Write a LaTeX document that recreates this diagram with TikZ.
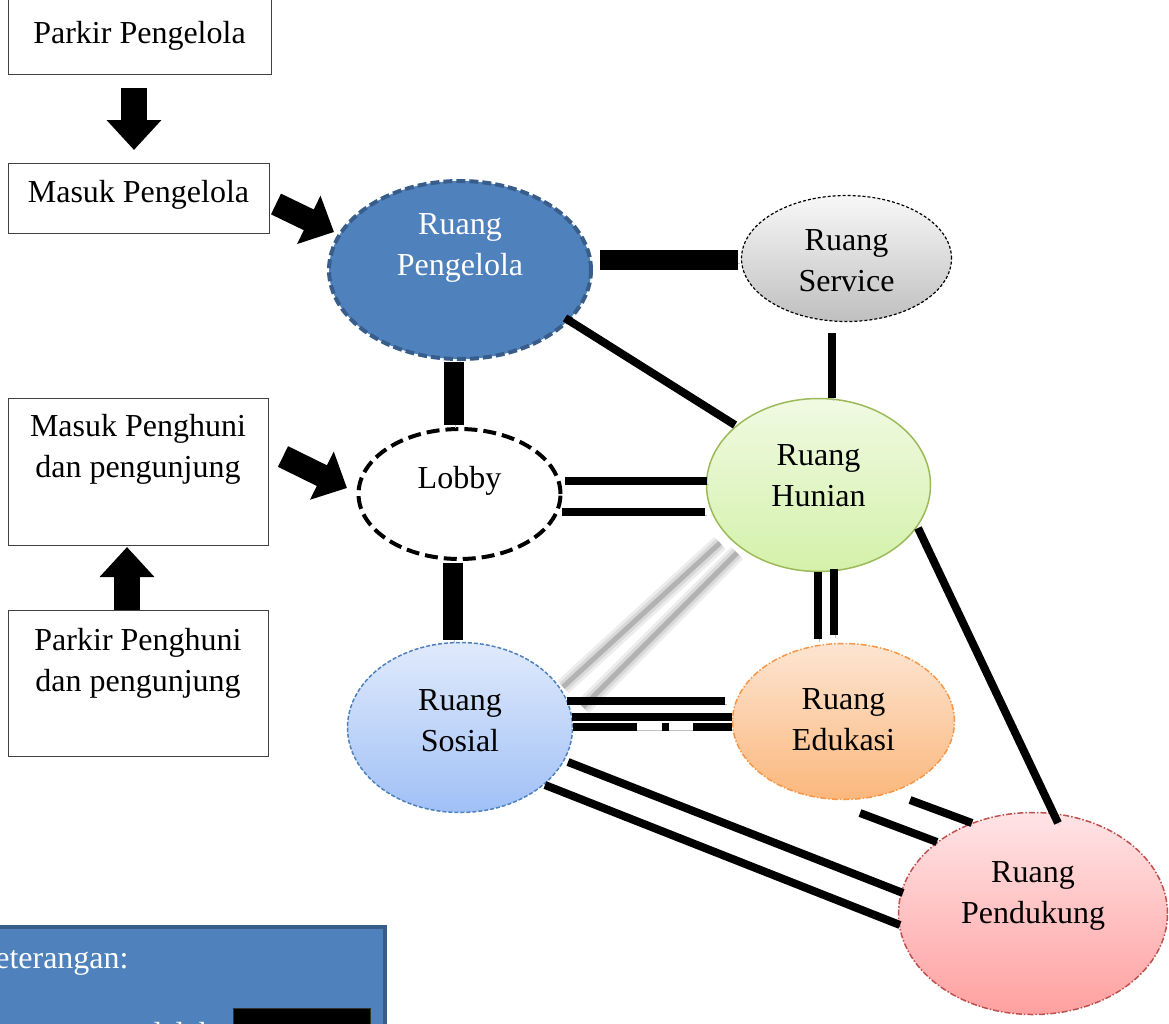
\documentclass[tikz,border=0pt]{standalone}
\usepackage{fontspec}
\setmainfont{Liberation Serif}
\usetikzlibrary{calc,arrows.meta,shapes.geometric}
\definecolor{pengfill}{HTML}{4F81BD}
\definecolor{pengline}{HTML}{385D8A}
\definecolor{hungreen}{HTML}{9BBB59}
\definecolor{edorange}{HTML}{F79646}
\definecolor{pendred}{HTML}{C0504D}
\begin{document}
\begin{tikzpicture}[x=1pt,y=-1pt,
  font=\fontsize{32pt}{41pt}\selectfont,
  box/.style={draw=black!75, line width=1pt, fill=white, inner sep=0pt},
  ell/.style={ellipse, inner sep=0pt},
  txt/.style={align=center, inner sep=0pt},
  shadowed/.style={preaction={draw=black!25, transform canvas={shift={(1.5pt,-3pt)}}}},
  link/.style={draw=black, line width=8pt, shadowed},
  bar/.style={draw=black, line width=20pt, shadowed},
  ghost/.style={draw=black!30, line width=5pt,
     preaction={draw=black!7, line width=17pt},
     preaction={draw=black!15, line width=11pt}},
  blockarr/.style={draw=black, line width=26pt, -{Triangle[width=53pt,length=30pt]}},
  diagarr/.style={draw=black, line width=23pt, -{Triangle[width=52pt,length=28pt]}}]
\useasboundingbox (0,0) rectangle (1169,1023);
\clip (0,0) rectangle (1169,1023);

% boxes
\node[box, minimum width=263pt, minimum height=75pt] (pp) at (139.5,36.5) {};
\node[txt] (pptxt) at ($(pp)+(0,-1)$) {Parkir Pengelola};
\node[box, minimum width=261pt, minimum height=70pt] (mp) at (138.5,198) {};
\node[txt] (mptxt) at ($(mp)+(0,-3)$) {Masuk Pengelola};
\node[box, minimum width=260pt, minimum height=147pt] (mh) at (138,471.5) {};
\node[txt] (mhtxt) at ($(mh.north)+(0,52)$) {Masuk Penghuni\\dan pengunjung};
\node[box, minimum width=260pt, minimum height=146pt] (ph) at (138,683) {};
\node[txt] (phtxt) at ($(ph.north)+(0,54)$) {Parkir Penghuni\\dan pengunjung};

% ellipses
\node[ell, minimum width=262pt, minimum height=178pt, fill=pengfill, draw=pengline,
      line width=4pt, dash pattern=on 9pt off 4pt,
      label={[txt, text=white, yshift=22pt]center:{Ruang\\Pengelola}}] (peng) at (460,270) {};
\node[ell, minimum width=210pt, minimum height=126pt, top color=black!3, bottom color=black!25,
      draw=black, line width=1.2pt, dash pattern=on 3pt off 2pt,
      label={[txt, yshift=-2pt]center:{Ruang\\Service}}] (serv) at (846.5,258.5) {};
\node[ell, minimum width=202pt, minimum height=130pt, fill=white, draw=black,
      line width=4pt, dash pattern=on 13pt off 6pt,
      label={[txt, yshift=13pt]center:{Lobby}}] (lob) at (459.5,494) {};
\node[ell, minimum width=224pt, minimum height=173pt, top color={rgb,255:red,240;green,250;blue,226},
      bottom color={rgb,255:red,212;green,241;blue,170}, draw=hungreen, line width=1.5pt,
      label={[txt, yshift=9pt]center:{Ruang\\Hunian}}] (hun) at (818.5,485) {};
\node[ell, minimum width=225pt, minimum height=170pt, top color={rgb,255:red,224;green,234;blue,252},
      bottom color={rgb,255:red,160;green,192;blue,246}, draw=pengfill, line width=1.5pt,
      dash pattern=on 4pt off 2pt,
      label={[txt, yshift=7pt]center:{Ruang\\Sosial}}] (sos) at (460,727.5) {};
\node[ell, minimum width=222pt, minimum height=156pt, top color={rgb,255:red,253;green,229;blue,210},
      bottom color={rgb,255:red,251;green,183;blue,124}, draw=edorange, line width=1.5pt,
      dash pattern=on 6pt off 2pt on 1.5pt off 2pt,
      label={[txt, yshift=2pt]center:{Ruang\\Edukasi}}] (edu) at (843.5,721.5) {};
\node[ell, minimum width=269pt, minimum height=202pt, top color={rgb,255:red,255;green,228;blue,230},
      bottom color={rgb,255:red,255;green,160;blue,160}, draw=pendred, line width=1.5pt,
      dash pattern=on 6pt off 2pt on 1.5pt off 2pt,
      label={[txt, yshift=17.5pt]center:{Ruang\\Pendukung}}] (pend) at (1033,913.5) {};

% block arrows
\draw[blockarr] ($(pp)+(-5.5,51.5)$) -- ($(mp)+(-4.5,-48)$);
\draw[diagarr] ($(mp)+(137.5,6)$) -- ($(peng)+(-126,-38)$);
\draw[diagarr] ($(mh)+(145,-15)$) -- ($(lob)+(-112.5,-6)$);
\draw[blockarr] ($(ph)+(-11,-73)$) -- ($(mh)+(-11,75.5)$);

% connectors
\draw[bar] ($(peng)+(140,-10)$) -- ($(serv)+(-108.5,1.5)$);
\draw[link] ($(peng)+(105,48)$) -- ($(hun)+(-83.5,-60)$);
\draw[link] ($(serv)+(-14.5,74.5)$) -- ($(hun)+(13.5,-87)$);
\draw[bar] ($(peng)+(-6,92)$) -- ($(lob)+(-5.5,-69)$);
\draw[link] ($(lob)+(105.5,-13)$) -- ($(hun)+(-111.5,-4)$);
\draw[link] ($(lob)+(102.5,18)$) -- ($(hun)+(-113.5,27)$);
\draw[bar] ($(lob)+(-6.5,69)$) -- ($(sos)+(-7,-87.5)$);
\draw[link, line width=7.5pt] ($(hun)+(-0.5,87)$) -- ($(edu)+(-25.5,-82.5)$);
\draw[link, line width=7.5pt] ($(hun)+(15.5,84)$) -- ($(edu)+(-9.5,-86.5)$);
\draw[ghost] ($(hun)+(-98.5,58)$) -- ($(sos)+(103,-40.5)$);
\draw[ghost] ($(hun)+(-81.5,68)$) -- ($(sos)+(123,-20.5)$);
\draw[link] ($(sos)+(107,-26.5)$) -- ($(edu)+(-118.5,-20.5)$);
\draw[link] ($(sos)+(112,-10.5)$) -- ($(edu)+(-111.5,-4.5)$);
\draw[link, dash pattern=on 64pt off 25pt on 7pt off 24pt on 80pt] ($(sos)+(113,-0.5)$) -- ($(edu)+(-111.5,5.5)$);
\draw[link] ($(sos)+(108,34.5)$) -- ($(pend)+(-130,-20.5)$);
\draw[link] ($(sos)+(85,57.5)$) -- ($(pend)+(-133,11.5)$);
\draw[link] ($(edu)+(66.5,78.5)$) -- ($(pend)+(-61,-90.5)$);
\draw[link] ($(edu)+(16.5,91.5)$) -- ($(pend)+(-96,-71.5)$);
\draw[link] ($(hun)+(99.5,43)$) -- ($(pend)+(25,-90.5)$);

% legend
\node[draw=pengline, line width=4pt, fill=pengfill, minimum width=400pt, minimum height=120pt,
      inner sep=0pt] (leg) at (185,987) {};
\node[txt, anchor=west, text=white] (legtitle) at (-28,961) {Keterangan:};
\node[fill=black, draw=black!80, minimum width=137pt, minimum height=40pt, inner sep=0pt]
      (swatch) at (301.5,1028) {};
\node[txt, anchor=base east, text=white] (legtext) at (215,1044) {Hubungan erat adalah};
\end{tikzpicture}
\end{document}
